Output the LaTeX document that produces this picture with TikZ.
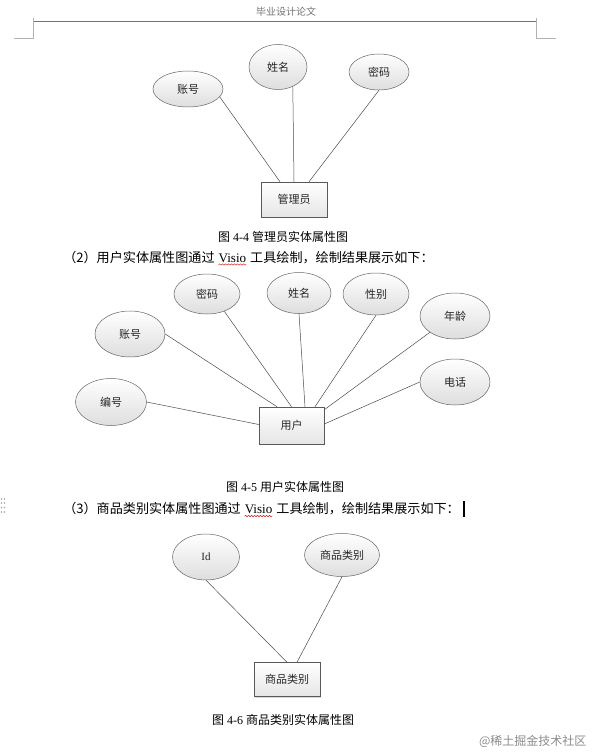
\documentclass[tikz,border=0pt]{standalone}
\usepackage{fontspec}
\setmainfont{Liberation Serif}
\newfontfamily\cjk{Noto Sans CJK SC}
\usepackage{tikz}
\usetikzlibrary{positioning,shapes.geometric,decorations.pathmorphing,shadows}

\begin{document}
\begin{tikzpicture}[
  x=1pt, y=-1pt, line width=0.5pt,
  attr/.style={ellipse, draw=black!60, top color=white, bottom color=black!13,
               inner sep=0pt, font=\cjk\fontsize{11}{13}\selectfont, text=black!85},
  ent/.style={rectangle, draw=black!65, top color=white, bottom color=black!10,
              inner sep=0pt, font=\cjk\fontsize{11}{13}\selectfont, text=black!85,
              drop shadow={shadow xshift=1.2pt, shadow yshift=-1.2pt, opacity=0.3}},
  link/.style={draw=black!70, line width=0.5pt},
  caption/.style={font=\fontsize{12}{14}\selectfont, text=black},
  body/.style={font=\fontsize{13.1}{16}\selectfont, inner sep=0pt, text=black},
  wavy/.style={draw=red!80!black, line width=0.4pt, decorate,
               decoration={snake, amplitude=0.7pt, segment length=3pt}},
  header/.style={draw=black!30, line width=0.5pt}
]
  \path[use as bounding box, fill=white] (0,0) rectangle (595,754);

  % --- Page header ---
  \node[font=\cjk\fontsize{10}{12}\selectfont, text=black!55] (hdr) at (286,12) {毕业设计论文};
  \draw[draw=black!55] (33,21) -- (536,21);
  \draw[header] (33,18) -- (33,38) -- (14,38);
  \draw[header] (536,18) -- (536,38) -- (556,38);

  % --- Fig 4-4: admin entity ---
  \node[attr, minimum width=70pt, minimum height=36pt] (gzh) at (188,89) {账号};
  \node[attr, minimum width=58pt, minimum height=45pt] (gxm) at (278,67) {姓名};
  \node[attr, minimum width=60pt, minimum height=36pt] (gmm) at (379,72) {密码};
  \node[ent, minimum width=66pt, minimum height=35pt] (gly) at (294,199.5) {管理员};
  \draw[link] (gzh.-14) -- ([xshift=-14pt]gly.north);
  \draw[link] (gxm.-53) -- (gly.north);
  \draw[link] (gmm.south) -- ([xshift=15pt]gly.north);

  \node[caption] (cap1) at (283,237) {{\cjk 图} 4-4 {\cjk 管理员实体属性图}};

  % --- Text line (2) ---
  \node[body, anchor=base west] (l2a) at (63,262) {\cjk （2）用户实体属性图通过};
  \node[body, base right=3.5pt of l2a] (visio2) {Visio};
  \node[body, base right=3.5pt of visio2] (l2b) {\cjk 工具绘制，绘制结果展示如下：};
  \draw[wavy] ([yshift=-2.5pt]visio2.base west) -- ([yshift=-2.5pt]visio2.base east);

  % --- Fig 4-5: user entity ---
  \node[attr, minimum width=66pt, minimum height=40pt] (ymm) at (207,294) {密码};
  \node[attr, minimum width=64pt, minimum height=41pt] (yxm) at (299,293) {姓名};
  \node[attr, minimum width=66pt, minimum height=42pt] (yxb) at (376,294) {性别};
  \node[attr, minimum width=70pt, minimum height=46pt] (ynl) at (455,316) {年龄};
  \node[attr, minimum width=70pt, minimum height=46pt] (yzh) at (130,334) {账号};
  \node[attr, minimum width=70pt, minimum height=46pt] (ydh) at (455,382) {电话};
  \node[attr, minimum width=71pt, minimum height=47pt] (ybh) at (111,402) {编号};
  \node[ent, minimum width=65pt, minimum height=37pt] (yh) at (291.5,425.5) {用户};
  \draw[link] (yzh.east) -- ([xshift=-14.5pt]yh.north);
  \draw[link] (ymm.-45) -- (yh.north);
  \draw[link] (yxm.south) -- ([xshift=13.5pt]yh.north);
  \draw[link] (yxb.south) -- ([xshift=23.5pt]yh.north);
  \draw[link] (ynl.-147) -- ([yshift=-3pt]yh.north east);
  \draw[link] (ydh.west) -- ([yshift=1.5pt]yh.east);
  \draw[link] (ybh.east) -- ([yshift=1pt]yh.west);

  \node[caption] (cap2) at (285,487) {{\cjk 图} 4-5 {\cjk 用户实体属性图}};

  % --- Text line (3) ---
  \foreach \dx in {1.5,4.5}{
    \foreach \dy in {499,503,507.5,512}{
      \fill[black!35] (\dx,\dy) circle (0.8pt);
    }
  }
  \node[body, anchor=base west] (l3a) at (63,513.5) {\cjk （3）商品类别实体属性图通过};
  \node[body, base right=3.5pt of l3a] (visio3) {Visio};
  \node[body, base right=3.5pt of visio3] (l3b) {\cjk 工具绘制，绘制结果展示如下：};
  \draw[wavy] ([yshift=-2.5pt]visio3.base west) -- ([yshift=-2.5pt]visio3.base east);
  \draw[line width=1.6pt] (464,501) -- (464,517);

  % --- Fig 4-6: category entity ---
  \node[attr, minimum width=67pt, minimum height=46pt,
        font=\fontsize{11}{13}\selectfont] (cid) at (206,557) {Id};
  \node[attr, minimum width=75pt, minimum height=43pt] (cname) at (342,555) {商品类别};
  \node[ent, minimum width=66pt, minimum height=34pt] (cate) at (287,679.5) {商品类别};
  \draw[link] (cid.south) -- (cate.north);
  \draw[link] (cname.south) -- ([xshift=10pt]cate.north);

  \node[caption] (cap3) at (283,720) {{\cjk 图} 4-6 {\cjk 商品类别实体属性图}};

  % --- Watermark ---
  \node[font=\cjk\fontsize{12}{14}\selectfont, text=black!45, anchor=east] (wm)
       at (590,741) {@稀土掘金技术社区};
\end{tikzpicture}
\end{document}
